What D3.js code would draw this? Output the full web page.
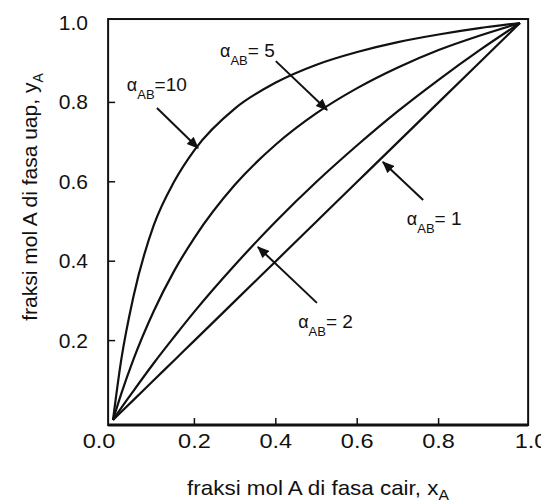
<!DOCTYPE html>
<html>
<head>
<meta charset="utf-8">
<script src="https://cdn.jsdelivr.net/npm/d3@7"></script>
<style>
body { margin: 0; background: #fff; }
text { font-family: "Liberation Sans", Arial, sans-serif; fill: #111; }
</style>
</head>
<body>
<div id="chart"></div>
<script>
var width = 541
var height = 503

// liquid fraction x_A where the curves were read
var xA = [0, 0.02, 0.05, 0.1, 0.15, 0.2, 0.3, 0.4, 0.5, 0.6, 0.7, 0.8, 0.9, 1]
// vapour fraction y_A
var yAlpha10 = [0, 0.15, 0.31, 0.49, 0.60, 0.68, 0.785, 0.85, 0.895, 0.927, 0.952, 0.971, 0.987, 1]
var yAlpha5 = [0, 0.065, 0.152, 0.274, 0.375, 0.459, 0.593, 0.694, 0.773, 0.836, 0.888, 0.932, 0.968, 1]
var yAlpha2 = [0, 0.03, 0.073, 0.143, 0.209, 0.273, 0.391, 0.5, 0.6, 0.692, 0.778, 0.857, 0.931, 1]
var yAlpha1 = [0, 0.02, 0.05, 0.1, 0.15, 0.2, 0.3, 0.4, 0.5, 0.6, 0.7, 0.8, 0.9, 1]

var tickValues = [0, 0.2, 0.4, 0.6, 0.8, 1.0]
var xTickLabels = ["0.0", "0.2", "0.4", "0.6", "0.8", "1.0"]
var yTickValues = [0.2, 0.4, 0.6, 0.8, 1.0]
var yTickLabels = ["0.2", "0.4", "0.6", "0.8", "1.0"]

// labels: alpha value, label anchor and arrow (data units)
var labelEq = ["=10", "= 5", "= 1", "= 2"]
var labelPos = [[0.034, 0.829], [0.263, 0.915], [0.722, 0.491], [0.455, 0.232]]
var arrowFrom = [[0.108, 0.786], [0.400, 0.904], [0.762, 0.554], [0.501, 0.295]]
var arrowTo = [[0.209, 0.685], [0.526, 0.781], [0.663, 0.650], [0.356, 0.436]]

var svg = d3.select("#chart").append("svg")
  .attr("width", width)
  .attr("height", height)

svg.append("defs").append("marker")
  .attr("id", "head")
  .attr("viewBox", "0 0 12 10")
  .attr("refX", 11)
  .attr("refY", 5)
  .attr("markerWidth", 13)
  .attr("markerHeight", 10)
  .attr("markerUnits", "userSpaceOnUse")
  .attr("orient", "auto")
  .append("path")
  .attr("d", "M0,0 L12,5 L0,10 Z")
  .attr("fill", "#111")

var x = d3.scaleLinear().domain([0, 1]).range([113, 520])
var y = d3.scaleLinear().domain([0, 1]).range([420, 23])

var fx0 = x(-0.012), fx1 = x(1.02)
var fy0 = y(-0.0126), fy1 = y(1.01)

// frame
svg.append("rect")
  .attr("x", fx0)
  .attr("y", fy1)
  .attr("width", fx1 - fx0)
  .attr("height", fy0 - fy1)
  .attr("fill", "none")
  .attr("stroke", "#111")
  .attr("stroke-width", 2)

svg.append("line")
  .attr("x1", fx0).attr("x2", fx1)
  .attr("y1", fy0).attr("y2", fy0)
  .attr("stroke", "#111")
  .attr("stroke-width", 3)

// inward ticks
svg.selectAll(".xtick")
  .data([0.2, 0.4, 0.6, 0.8])
  .enter().append("line")
  .attr("x1", d => x(d)).attr("x2", d => x(d))
  .attr("y1", fy0).attr("y2", fy0 - 7)
  .attr("stroke", "#111")
  .attr("stroke-width", 1.5)

svg.selectAll(".ytick")
  .data([0.2, 0.4, 0.6, 0.8])
  .enter().append("line")
  .attr("x1", fx0).attr("x2", fx0 + 7)
  .attr("y1", d => y(d)).attr("y2", d => y(d))
  .attr("stroke", "#111")
  .attr("stroke-width", 1.5)

// tick labels
svg.selectAll(".xlab")
  .data(tickValues)
  .enter().append("text")
  .attr("transform", (d, i) => {
    var off = i == 0 ? -14 : (i == tickValues.length - 1 ? 11 : 0)
    return "translate(" + (x(d) + off) + ",448) scale(1.12,1)"
  })
  .attr("text-anchor", "middle")
  .style("font-size", "21px")
  .text((d, i) => xTickLabels[i])

svg.selectAll(".ylab")
  .data(yTickValues)
  .enter().append("text")
  .attr("x", 88)
  .attr("y", d => y(d) + 7)
  .attr("text-anchor", "end")
  .style("font-size", "21px")
  .text((d, i) => yTickLabels[i])

// axis titles
var xt = svg.append("text")
  .attr("transform", "translate(318,495) scale(1.12,1)")
  .attr("text-anchor", "middle")
  .style("font-size", "20px")
xt.append("tspan").text("fraksi mol A di fasa cair, x")
xt.append("tspan").attr("dy", 5).style("font-size", "14px").text("A")

var yt = svg.append("text")
  .attr("transform", "translate(37,197) rotate(-90)")
  .attr("text-anchor", "middle")
  .style("font-size", "21px")
yt.append("tspan").text("fraksi mol A di fasa uap, y")
yt.append("tspan").attr("dy", 6).style("font-size", "14px").text("A")

// curves
var line = d3.line()
  .x(d => x(d[0]))
  .y(d => y(d[1]))
  .curve(d3.curveMonotoneX)

var series = [yAlpha10, yAlpha5, yAlpha2, yAlpha1]
svg.selectAll(".curve")
  .data(series)
  .enter().append("path")
  .attr("d", s => line(xA.map((v, i) => [v, s[i]])))
  .attr("fill", "none")
  .attr("stroke", "#111")
  .attr("stroke-width", 2.2)

// arrows
svg.selectAll(".arrow")
  .data(arrowFrom)
  .enter().append("line")
  .attr("x1", d => x(d[0])).attr("y1", d => y(d[1]))
  .attr("x2", (d, i) => x(arrowTo[i][0])).attr("y2", (d, i) => y(arrowTo[i][1]))
  .attr("stroke", "#111")
  .attr("stroke-width", 2)
  .attr("marker-end", "url(#head)")

// alpha labels
labelPos.forEach(function(p, i) {
  var t = svg.append("text")
    .attr("x", x(p[0]))
    .attr("y", y(p[1]))
    .style("font-size", "19px")
  t.append("tspan").style("font-size", "18px").text("\u03b1")
  t.append("tspan").attr("dy", 8).style("font-size", "13px").text("AB")
  t.append("tspan").attr("dy", -8).text(labelEq[i])
})
</script>
</body>
</html>
